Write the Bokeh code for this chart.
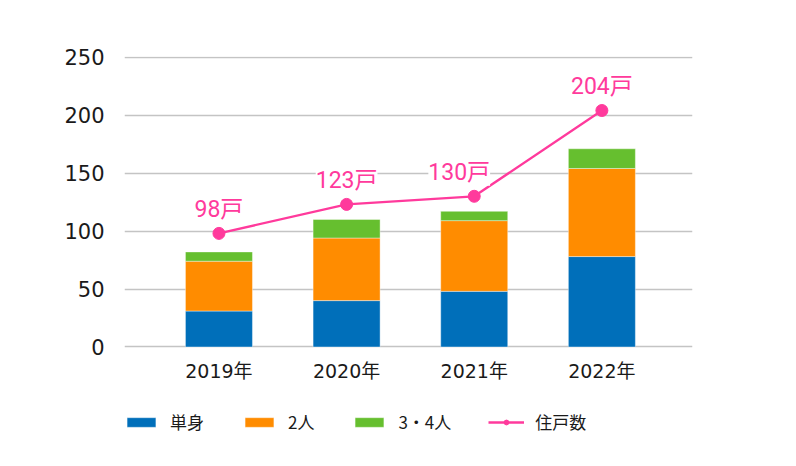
from bokeh.plotting import figure
from bokeh.models import ColumnDataSource, Range1d, FixedTicker, LabelSet, Legend, LegendItem
from bokeh.core.properties import value
from bokeh.embed import file_html
from bokeh.resources import INLINE

years = ["2019年", "2020年", "2021年", "2022年"]
single = [31, 40, 48, 78]
two = [43, 54, 61, 76]
three_four = [8, 16, 8, 17]
households = [98, 123, 130, 204]
household_labels = ["98戸", "123戸", "130戸", "204戸"]
y_ticks = [0, 50, 100, 150, 200, 250]

BLUE = "#006FBA"
ORANGE = "#FF8C00"
GREEN = "#66BF2F"
PINK = "#FF3A9C"

xs = list(range(len(years)))
label_dx = [0, 0, -15, 0]  # label nudges (px)
src = ColumnDataSource(dict(x=xs, single=single, two=two, three=three_four,
                            hh=households, lab=household_labels, dx=label_dx,
                            year=years, zero=[0] * len(years)))

p = figure(output_backend="svg", toolbar_location=None,
           x_range=Range1d(-0.74, 3.71), y_range=Range1d(-85, 250.6))
p.frame_width = 568
p.frame_height = 389
p.min_border_left = 124
p.min_border_right = 88
p.min_border_top = 56
p.min_border_bottom = 5
p.outline_line_color = None
p.background_fill_color = "white"
p.border_fill_color = "white"

bars = p.vbar_stack(["single", "two", "three"], x="x", width=0.525, source=src,
                    color=[BLUE, ORANGE, GREEN], line_color="white", line_alpha=0.4, line_width=1)

ln = p.line("x", "hh", source=src, line_color=PINK, line_width=2.3)
sc = p.scatter("x", "hh", source=src, size=12, fill_color=PINK, line_color=PINK)

labels = LabelSet(x="x", y="hh", text="lab", source=src, y_offset=24, x_offset="dx",
                  text_align="center", text_baseline="middle",
                  text_font=value("Roboto, Noto Sans CJK JP"), text_font_size="23px",
                  text_color=PINK, background_fill_color="white")
p.add_layout(labels)

# category (year) labels under the bars
year_labels = LabelSet(x="x", y="zero", text="year", source=src, y_offset=-24,
                       text_align="center", text_baseline="middle",
                       text_font=value("DejaVu Sans, Noto Sans CJK JP"), text_font_size="19px",
                       text_color="#1a1a1a")
p.add_layout(year_labels)

p.xaxis.visible = False
p.yaxis.ticker = FixedTicker(ticks=y_ticks)
p.yaxis.axis_line_color = None
p.yaxis.major_tick_line_color = None
p.yaxis.minor_tick_line_color = None
p.yaxis.major_tick_out = 0
p.yaxis.major_tick_in = 0
p.yaxis.major_label_text_color = "#1a1a1a"
p.yaxis.major_label_text_font = "DejaVu Sans"
p.yaxis.major_label_text_font_size = "21px"
p.yaxis.major_label_standoff = 20

p.xgrid.grid_line_color = None
p.ygrid.grid_line_color = "#C4C4C4"
p.ygrid.grid_line_width = 1.3
p.ygrid.ticker = FixedTicker(ticks=y_ticks)

legend = Legend(items=[
    LegendItem(label="単身", renderers=[bars[0]]),
    LegendItem(label="2人", renderers=[bars[1]]),
    LegendItem(label="3・4人", renderers=[bars[2]]),
    LegendItem(label="住戸数", renderers=[ln, sc]),
], orientation="horizontal", location=(-1, 11))
legend.glyph_width = 36
legend.glyph_height = 12
legend.label_standoff = 11
legend.spacing = 37
legend.label_text_font = "Noto Sans CJK JP"
legend.label_text_font_size = "17px"
legend.label_text_color = "#1a1a1a"
legend.border_line_color = None
legend.background_fill_alpha = 0
legend.margin = 0
legend.padding = 0
legend.label_height = 20
legend.label_text_baseline = "middle"
p.add_layout(legend, "center")

open("out.html", "w").write(file_html(p, INLINE))
